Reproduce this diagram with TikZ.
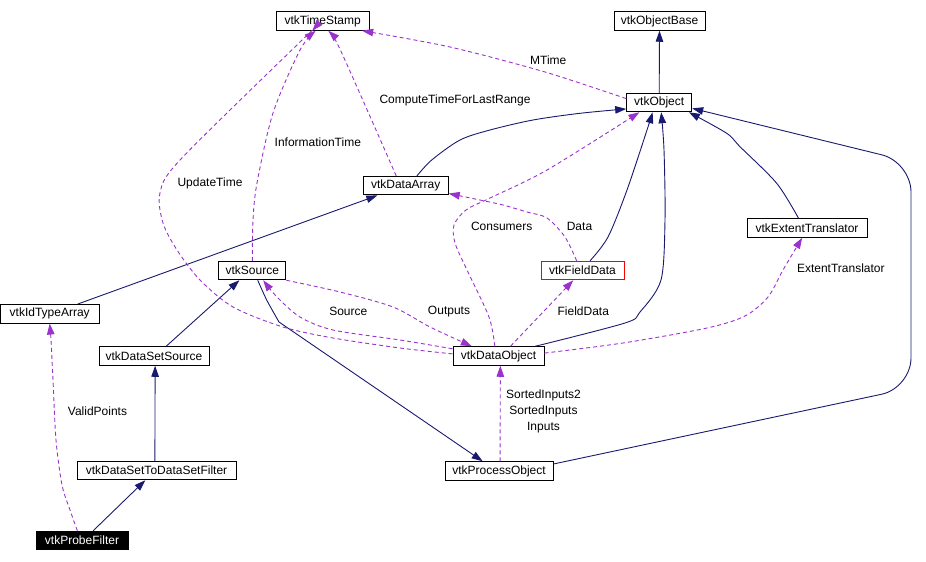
\documentclass[tikz,border=0pt]{standalone}
\usepackage{fontspec}
\setmainfont{Liberation Sans}
\usetikzlibrary{arrows.meta,calc}
\definecolor{inhcol}{HTML}{191970}
\definecolor{usecol}{HTML}{9A32CD}
\begin{document}
\begin{tikzpicture}[x=1pt,y=-1pt,
  cls/.style={draw=black, fill=white, line width=1pt, minimum height=18.5pt, inner sep=0pt, font=\fontsize{12}{14}\selectfont, text=black},
  lbl/.style={font=\fontsize{12}{14}\selectfont, inner sep=0pt, text=black},
  inhe/.style={draw=inhcol, line width=0.9pt, -{Triangle[length=11pt,width=7.5pt]}},
  usee/.style={draw=usecol, line width=0.9pt, dash pattern=on 4pt off 3pt, -{Triangle[length=11pt,width=7.5pt]}},
]
\path[use as bounding box] (0,0) rectangle (926,562);

% classes
\node[cls, minimum width=93pt] (ts) at (322.7,21) {vtkTimeStamp};
\node[cls, minimum width=91pt] (ob) at (659.5,21) {vtkObjectBase};
\node[cls, minimum width=65pt] (obj) at (659.2,102.5) {vtkObject};
\node[cls, minimum width=85pt] (da) at (405.7,185.7) {vtkDataArray};
\node[cls, minimum width=120pt] (et) at (807,228) {vtkExtentTranslator};
\node[cls, minimum width=67pt] (src) at (252.3,270.5) {vtkSource};
\node[cls, minimum width=83pt, draw=red] (fd) at (582.5,270.5) {vtkFieldData};
\node[cls, minimum width=99pt] (ita) at (49.7,313.8) {vtkIdTypeArray};
\node[cls, minimum width=110pt] (dss) at (154,356) {vtkDataSetSource};
\node[cls, minimum width=91pt] (dobj) at (498.5,356) {vtkDataObject};
\node[cls, minimum width=159pt] (dsf) at (156.5,470.5) {vtkDataSetToDataSetFilter};
\node[cls, minimum width=108pt] (po) at (499,471) {vtkProcessObject};
\node[cls, minimum width=92pt, fill=black, text=white] (pf) at (82,540.5) {vtkProbeFilter};

% inheritance connectors
\draw[inhe] (obj.north) -- (ob.south);

\coordinate (a1) at ($(da.north west)!0.63!(da.north east)$);
\coordinate (a2) at ($(obj.north west)!0.83!(obj.south west)$);
\draw[inhe] plot[smooth] coordinates {(a1) (431.7,160) (460,140) (490,130) (533,120) (580,113.3) (a2)};

\coordinate (b1) at ($(fd.north west)!0.59!(fd.north east)$);
\coordinate (b2) at ($(obj.south west)!0.4!(obj.south east)$);
\draw[inhe] plot[smooth] coordinates {(b1) (608,237) (627,190) (647,130) (b2)};

\coordinate (c1) at ($(dobj.north west)!0.9!(dobj.north east)$);
\coordinate (c2) at ($(obj.south west)!0.53!(obj.south east)$);
\draw[inhe] plot[smooth] coordinates {(c1) (625,323) (640,312) (661,280) (665,220) (664,150) (c2)};

\coordinate (d1) at ($(et.north west)!0.43!(et.north east)$);
\coordinate (d2) at ($(obj.south west)!0.95!(obj.south east)$);
\draw[inhe] plot[smooth] coordinates {(d1) (776.7,183.3) (740,146.7) (726.7,133.3) (d2)};

\coordinate (e1) at ($(po.north east)!0.14!(po.south east)$);
\coordinate (e2) at ($(obj.north east)!0.8!(obj.south east)$);
\draw[inhe, rounded corners=30pt] (e1) -- (911,388) -- (911,162) -- (e2);

\coordinate (f1) at ($(ita.north west)!0.78!(ita.north east)$);
\coordinate (f2) at ($(da.south west)!0.17!(da.south east)$);
\draw[inhe] (f1) -- (f2);

\coordinate (g1) at ($(dss.north west)!0.61!(dss.north east)$);
\coordinate (g2) at ($(src.south west)!0.31!(src.south east)$);
\draw[inhe] (g1) -- (g2);

\coordinate (h1) at ($(dsf.north west)!0.49!(dsf.north east)$);
\coordinate (h2) at ($(dss.south west)!0.51!(dss.south east)$);
\draw[inhe] (h1) -- (h2);

\coordinate (i1) at ($(pf.north west)!0.62!(pf.north east)$);
\coordinate (i2) at ($(dsf.south west)!0.43!(dsf.south east)$);
\draw[inhe] (i1) -- (i2);

\coordinate (j1) at ($(src.south west)!0.58!(src.south east)$);
\coordinate (j2) at ($(po.north west)!0.35!(po.north east)$);
\draw[inhe] plot[smooth] coordinates {(j1) (266.7,300) (279,322)} -- (j2);

% usage connectors
\coordinate (k1) at ($(obj.north west)!0.3!(obj.south west)$);
\coordinate (k2) at ($(ts.south west)!0.92!(ts.south east)$);
\draw[usee] plot[smooth] coordinates {(k1) (545,72) (450,47) (k2)};
\node[lbl] (lmtime) at (548.3,60) {MTime};

\coordinate (m1) at ($(da.north west)!0.39!(da.north east)$);
\coordinate (m2) at ($(ts.south west)!0.56!(ts.south east)$);
\draw[usee] plot[smooth] coordinates {(m1) (357,87) (337,43) (m2)};
\node[lbl] (lcompute) at (455,100) {ComputeTimeForLastRange};

\coordinate (n1) at (src.north);
\coordinate (n2) at ($(ts.south west)!0.425!(ts.south east)$);
\draw[usee] plot[smooth] coordinates {(n1) (253,220) (257,183) (273,113) (300,50) (n2)};
\node[lbl] (linfo) at (317.8,142.7) {InformationTime};

\coordinate (o1) at ($(dobj.north west)!0.39!(dobj.south west)$);
\coordinate (o2) at ($(ts.south west)!0.39!(ts.south east)$);
\draw[usee] plot[smooth] coordinates {(o1) (400,348) (333,338) (283,327) (233,307) (200,280) (177,250) (163,223) (160,193) (180,160) (298,44) (o2)};
\node[lbl] (lupdate) at (210,183.5) {UpdateTime};

\coordinate (p1) at ($(dobj.north west)!0.13!(dobj.south west)$);
\coordinate (p2) at ($(src.south west)!0.66!(src.south east)$);
\draw[usee] plot[smooth] coordinates {(p1) (400,340) (333,330) (300,317) (277,297) (p2)};
\node[lbl] (lsource) at (348.3,311.7) {Source};

\coordinate (q1) at (src.south east);
\coordinate (q2) at ($(dobj.north west)!0.21!(dobj.north east)$);
\draw[usee] plot[smooth] coordinates {(q1) (340,292) (393,307) (430,327) (q2)};
\node[lbl] (loutputs) at (449,311.7) {Outputs};

\coordinate (r1) at ($(dobj.north west)!0.46!(dobj.north east)$);
\coordinate (r2) at ($(obj.south west)!0.2!(obj.south east)$);
\draw[usee] plot[smooth] coordinates {(r1) (489,317) (467,270) (455,243) (454,225) (466,210) (490,198) (547,170) (r2)};
\node[lbl] (lconsumers) at (501.7,226.7) {Consumers};

\coordinate (s1) at ($(fd.north west)!0.43!(fd.north east)$);
\coordinate (s2) at ($(da.north east)!0.9!(da.south east)$);
\draw[usee] plot[smooth] coordinates {(s1) (565,237) (547,218) (527,212) (503,205) (480,200) (s2)};
\node[lbl] (ldata) at (579.5,226.7) {Data};

\coordinate (t1) at ($(dobj.north west)!0.63!(dobj.north east)$);
\coordinate (t2) at ($(fd.south west)!0.39!(fd.south east)$);
\draw[usee] (t1) -- (t2);
\node[lbl] (lfield) at (583.3,311.7) {FieldData};

\coordinate (u1) at ($(dobj.north east)!0.35!(dobj.south east)$);
\coordinate (u2) at ($(et.south west)!0.46!(et.south east)$);
\draw[usee] plot[smooth] coordinates {(u1) (623,343) (707,328) (745,316) (768,297) (783,270) (u2)};
\node[lbl] (lextent) at (840.8,268.3) {ExtentTranslator};

\coordinate (v1) at ($(po.north west)!0.51!(po.north east)$);
\coordinate (v2) at ($(dobj.south west)!0.52!(dobj.south east)$);
\draw[usee] (v1) -- (v2);
\node[lbl, align=center, font=\fontsize{12}{16}\selectfont] (linputs) at (543.5,411.7) {SortedInputs2\\SortedInputs\\Inputs};

\coordinate (w1) at ($(pf.north west)!0.45!(pf.north east)$);
\coordinate (w2) at (ita.south);
\draw[usee] plot[smooth] coordinates {(w1) (70,510) (62,485) (56,440) (53,380) (51,340) (w2)};
\node[lbl] (lvalid) at (97.5,411.7) {ValidPoints};
\end{tikzpicture}
\end{document}
